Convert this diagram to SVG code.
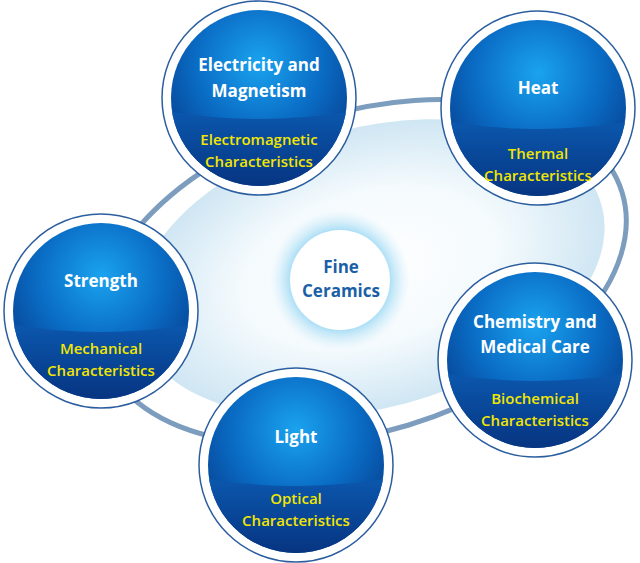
<svg xmlns="http://www.w3.org/2000/svg" width="640" height="563" viewBox="0 0 640 563">
<defs>
<radialGradient id="top" cx="0.5" cy="0.3" r="0.6">
<stop offset="0" stop-color="#1aa3ef"/><stop offset="0.6" stop-color="#0a6cc4"/><stop offset="1" stop-color="#07489a"/>
</radialGradient>
<linearGradient id="bot" x1="0" y1="0" x2="0" y2="1">
<stop offset="0" stop-color="#0b58ae"/><stop offset="1" stop-color="#062f7a"/>
</linearGradient>
<radialGradient id="disc" cx="0.5" cy="0.5" r="0.5">
<stop offset="0" stop-color="#ffffff"/><stop offset="0.55" stop-color="#f4fafd"/><stop offset="1" stop-color="#cfe6f3"/>
</radialGradient>
<radialGradient id="glow" cx="0.5" cy="0.5" r="0.5">
<stop offset="0.6" stop-color="#6cc6f0" stop-opacity="0.9"/><stop offset="1" stop-color="#bfe6f7" stop-opacity="0"/>
</radialGradient>
<clipPath id="ic"><circle r="88"/></clipPath>
<g id="ball">
<circle r="97" fill="#fff" stroke="#2b5e9f" stroke-width="1.5"/>
<circle r="88" fill="url(#top)"/>
<path d="M-100 12 Q0 30 100 12 V100 H-100 Z" fill="url(#bot)" clip-path="url(#ic)"/>
</g>
</defs>
<style>
.t{font-family:"Open Sans","Liberation Sans",sans-serif;font-weight:bold;font-size:17px;fill:#fff;text-anchor:middle}
.y{font-family:"Open Sans","Liberation Sans",sans-serif;font-weight:600;font-size:15px;fill:#f2e600;text-anchor:middle}
.c{font-family:"Open Sans","Liberation Sans",sans-serif;font-weight:bold;font-size:17px;fill:#1b5fa6;text-anchor:middle}
</style>
<g id="connectors">
<ellipse cx="370" cy="268" rx="240" ry="140" transform="rotate(-15 370 268)" fill="url(#disc)"/>
<ellipse cx="362" cy="272" rx="272" ry="160" transform="rotate(-17 362 272)" fill="none" stroke="#7d9dbf" stroke-width="5"/>
</g>
<g id="center">
<circle cx="340" cy="280" r="70" fill="url(#glow)"/>
<circle cx="340" cy="280" r="50" fill="#fff"/>
<text class="c" x="341" y="273">Fine</text>
<text class="c" x="341" y="297">Ceramics</text>
</g>
<g id="electricity"><use href="#ball" x="259" y="98"/>
<text class="t" x="259" y="71">Electricity and</text><text class="t" x="259" y="97">Magnetism</text>
<text class="y" x="259" y="145">Electromagnetic</text><text class="y" x="259" y="167">Characteristics</text></g>
<g id="heat"><use href="#ball" x="538" y="108"/>
<text class="t" x="538" y="94">Heat</text>
<text class="y" x="538" y="159">Thermal</text><text class="y" x="538" y="181">Characteristics</text></g>
<g id="strength"><use href="#ball" x="101" y="311"/>
<text class="t" x="101" y="287">Strength</text>
<text class="y" x="101" y="354">Mechanical</text><text class="y" x="101" y="376">Characteristics</text></g>
<g id="chemistry"><use href="#ball" x="535" y="360"/>
<text class="t" x="535" y="328">Chemistry and</text><text class="t" x="535" y="353">Medical Care</text>
<text class="y" x="535" y="404">Biochemical</text><text class="y" x="535" y="426">Characteristics</text></g>
<g id="light"><use href="#ball" x="296" y="465"/>
<text class="t" x="296" y="443">Light</text>
<text class="y" x="296" y="504">Optical</text><text class="y" x="296" y="526">Characteristics</text></g>
</svg>
